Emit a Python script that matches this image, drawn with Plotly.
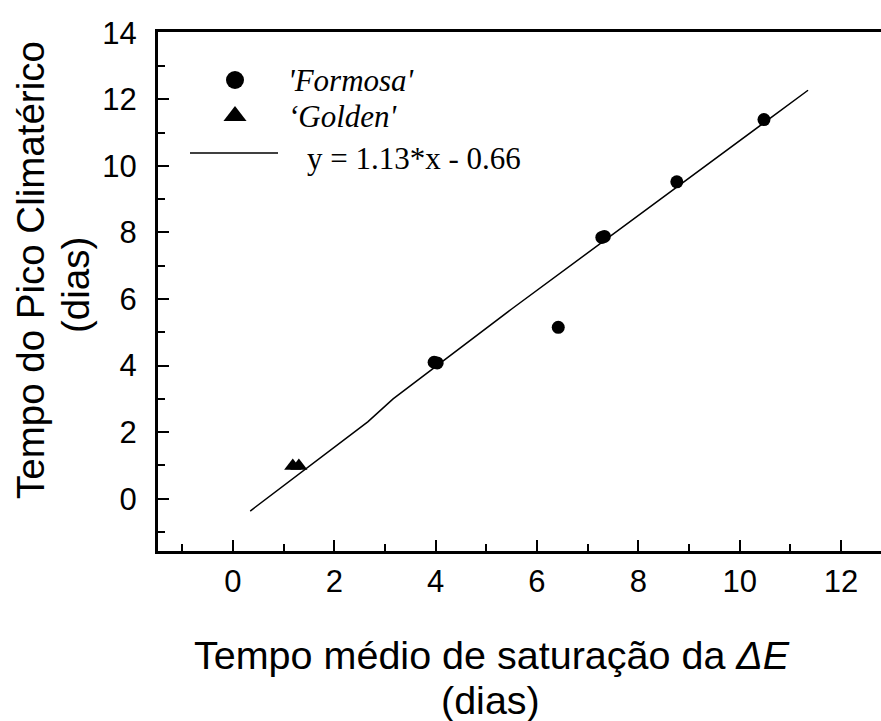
import plotly.graph_objects as go

# ---- data ----
formosa_x = [3.97, 4.03, 6.42, 7.28, 7.33, 8.76, 10.48]
formosa_y = [4.10, 4.08, 5.15, 7.85, 7.88, 9.52, 11.39]
golden_x = [1.18, 1.30]
golden_y = [0.98, 0.98]
fit_x = [0.34, 2.66, 3.16, 5.50, 11.35]
fit_y = [-0.37, 2.31, 3.00, 5.70, 12.27]

x_range = [-1.48, 12.79]
y_range = [-1.57, 14.02]

W, H = 881, 721
L, R, T, B = 158, 0, 32, 170
PW, PH = W - L - R, H - T - B


def px(X):
    return (X - L) / PW


def py(Y):
    return (H - B - Y) / PH


fig = go.Figure()

fig.add_trace(go.Scatter(x=fit_x, y=fit_y, mode="lines",
                         line=dict(color="black", width=1.5), showlegend=False))
fig.add_trace(go.Scatter(x=formosa_x, y=formosa_y, mode="markers",
                         marker=dict(symbol="circle", size=13, color="black"),
                         showlegend=False))
fig.add_trace(go.Scatter(x=golden_x, y=golden_y, mode="markers",
                         marker=dict(symbol="triangle-up", size=15, color="black"),
                         showlegend=False))

# legend symbols on a pixel overlay axis
fig.add_trace(go.Scatter(x=[235], y=[80], mode="markers", xaxis="x2", yaxis="y2",
                         marker=dict(symbol="circle", size=18, color="black"),
                         showlegend=False, hoverinfo="skip"))
fig.add_trace(go.Scatter(x=[235], y=[116], mode="markers", xaxis="x2", yaxis="y2",
                         marker=dict(symbol="triangle-up", size=20, color="black"),
                         showlegend=False, hoverinfo="skip"))
fig.add_trace(go.Scatter(x=[190, 278], y=[153, 153], mode="lines", xaxis="x2", yaxis="y2",
                         line=dict(color="black", width=1.5),
                         showlegend=False, hoverinfo="skip"))

serif = "Liberation Serif, Times New Roman, serif"
sans = "Liberation Sans, Arial, sans-serif"

annotations = [
    dict(text="<i>'Formosa'</i>", x=px(286), y=py(81), xanchor="left", yanchor="middle",
         font=dict(family=serif, size=31, color="black")),
    dict(text="<i>‘Golden'</i>", x=px(286), y=py(116), xanchor="left", yanchor="middle",
         font=dict(family=serif, size=31, color="black")),
    dict(text="y = 1.13*x - 0.66", x=px(305), y=py(158), xanchor="left", yanchor="middle",
         font=dict(family=serif, size=31, color="black")),
    dict(text="Tempo médio de saturação da <i>ΔE</i>", x=px(492), y=py(655),
         xanchor="center", yanchor="middle", font=dict(family=sans, size=39.5, color="black")),
    dict(text="(dias)", x=px(490), y=py(700),
         xanchor="center", yanchor="middle", font=dict(family=sans, size=39.5, color="black")),
    dict(text="Tempo do Pico Climatérico", x=px(30), y=py(270), textangle=-90,
         xanchor="center", yanchor="middle", font=dict(family=sans, size=38.5, color="black")),
    dict(text="(dias)", x=px(75), y=py(285), textangle=-90,
         xanchor="center", yanchor="middle", font=dict(family=sans, size=38.5, color="black")),
]
for a in annotations:
    a.update(xref="paper", yref="paper", showarrow=False)

fig.update_layout(
    width=W, height=H,
    margin=dict(l=L, r=R, t=T, b=B, pad=0),
    paper_bgcolor="white", plot_bgcolor="white",
    annotations=annotations,
    xaxis=dict(range=x_range, tick0=0, dtick=2, ticks="inside", ticklen=11, tickwidth=2,
               tickcolor="black", showline=True, linewidth=3, linecolor="black",
               mirror=True, showgrid=False, zeroline=False,
               tickfont=dict(family=sans, size=31, color="black"),
               ticklabelstandoff=1,
               minor=dict(dtick=1, ticks="inside", ticklen=7, tickwidth=2, tickcolor="black",
                          showgrid=False)),
    yaxis=dict(range=y_range, tick0=0, dtick=2, ticks="inside", ticklen=11, tickwidth=2,
               tickcolor="black", showline=True, linewidth=3, linecolor="black",
               showgrid=False, zeroline=False,
               tickfont=dict(family=sans, size=31, color="black"),
               ticklabelstandoff=12,
               minor=dict(dtick=1, ticks="inside", ticklen=7, tickwidth=2, tickcolor="black",
                          showgrid=False)),
    xaxis2=dict(range=[L, W - R], overlaying="x", visible=False, fixedrange=True),
    yaxis2=dict(range=[H - B, T], overlaying="y", visible=False, fixedrange=True),
)

fig.write_html("out.html")
